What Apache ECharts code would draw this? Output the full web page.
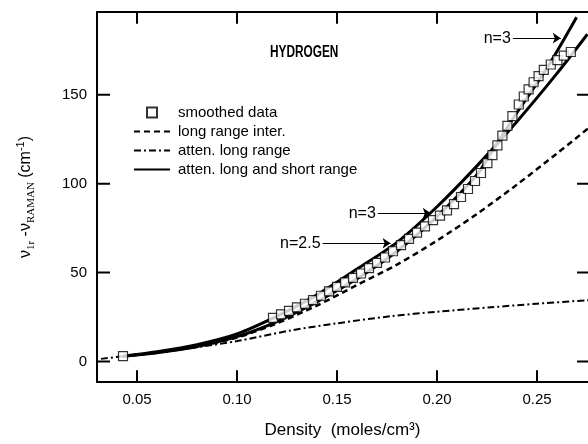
<!DOCTYPE html>
<html><head><meta charset="utf-8">
<script src="https://cdn.jsdelivr.net/npm/echarts@6/dist/echarts.min.js"></script>
<style>html,body{margin:0;padding:0;background:#fff}#c{width:588px;height:444px}</style>
</head><body><div id="c"></div>
<script>
// ---- data ----
const smoothedX = [0.043,0.118,0.122,0.126,0.130,0.134,0.138,0.142,0.146,0.150,0.154,0.158,0.162,0.166,0.170,0.174,0.178,0.182,0.186,0.190,0.194,0.198,0.2015,0.205,0.2085,0.212,0.2155,0.219,0.222,0.2252,0.2277,0.2302,0.2327,0.2352,0.2377,0.2409,0.2434,0.2458,0.2483,0.2508,0.2534,0.2569,0.2602,0.2634,0.2669];
const smoothedY = [3,24.5,26.5,28.5,30.5,32.5,34.5,37,39.5,42,44.5,47,49.5,52.5,55.5,58.5,62,65.5,69,72.5,76,79.5,82,85,88.5,92.5,97,101.5,106,111.5,116,121.5,127,132.5,138,144.5,149,153,157,160.5,164,167,169.5,172,174];
const longRangeX = [0.043,0.06,0.08,0.10,0.12,0.14,0.16,0.18,0.20,0.22,0.24,0.26,0.2755];
const longRangeY = [3,5,8.5,13.5,21.5,31.5,43,54.5,68,83,99.5,117,131];
const attenLongX = [0.032,0.043,0.06,0.08,0.10,0.127,0.15,0.177,0.20,0.227,0.25,0.2755];
const attenLongY = [1.5,3,5,8,11.5,17.5,21.5,25.5,28,30.5,32.5,34.5];
const fullN3X = [0.043,0.06,0.08,0.10,0.12,0.14,0.15,0.16,0.18,0.20,0.22,0.2268,0.24,0.255,0.2698];
const fullN3Y = [3,5,8.5,14,22.5,33.5,40,46.5,62,81.5,105,117,140,165,193.5];
const fullN25X = [0.043,0.06,0.08,0.10,0.12,0.14,0.16,0.18,0.20,0.22,0.24,0.26,0.2752];
const fullN25Y = [3,5.5,9.5,15.5,25.5,37.5,52,67,87,110,135,162,184];
const xTicks = [0.05,0.10,0.15,0.20,0.25];
const yTicks = [0,50,100,150];
const annotText = ['n=3','n=3','n=2.5'];
const annotX1 = [0.2379,0.1704,0.1428];
const annotX2 = [0.2619,0.1969,0.1768];
const annotY = [181.8,83.4,66.5];

const pairs = (xs, ys) => xs.map((x, i) => [x, ys[i]]);
const FONT = "'Liberation Sans', Arial, Helvetica, sans-serif";
const XMIN = 0.03, XMAX = 0.2755, YMIN = -11.5, YMAX = 196.5;
const GRID = {left: 97, top: 12, right: 0, bottom: 57};
const PLOT_W = 588 - GRID.left - GRID.right, PLOT_H = 444 - GRID.top - GRID.bottom;
// inward tick lengths (px) expressed in axis units
const xPerPx = (XMAX - XMIN) / PLOT_W, yPerPx = (YMAX - YMIN) / PLOT_H;
const XT = 12 * yPerPx, YTL = 13 * xPerPx, YTR = 11 * xPerPx;

// frame tick marks as a broken polyline (null breaks each segment)
const tickData = [];
xTicks.forEach(t => { tickData.push([t, YMIN], [t, YMIN + XT], [t, null]); });
xTicks.forEach(t => { tickData.push([t, YMAX], [t, YMAX - XT], [t, null]); });
yTicks.forEach(t => { tickData.push([XMIN, t], [XMIN + YTL, t], [XMIN, null]); });
yTicks.forEach(t => { tickData.push([XMAX, t], [XMAX - YTR, t], [XMAX, null]); });

const chart = echarts.init(document.getElementById('c'), null, {renderer: 'canvas'});

const lineAxis = {show: true, onZero: false, lineStyle: {color: '#000', width: 2}};
const baseX = {type: 'value', min: XMIN, max: XMAX, splitNumber: 5, splitLine: {show: false}, axisTick: {show: false}};
const baseY = {type: 'value', min: YMIN, max: YMAX, splitNumber: 5, splitLine: {show: false}, axisTick: {show: false}};

const markLineData = annotText.map((t, i) => [
  {coord: [annotX1[i], annotY[i]], label: {formatter: t}},
  {coord: [annotX2[i], annotY[i]]}
]);
const hiddenSymbol = {color: 'rgba(0,0,0,0)', borderWidth: 0, opacity: 0};

chart.setOption({
  animation: false,
  backgroundColor: '#fff',
  textStyle: {fontFamily: FONT, color: '#000'},
  grid: Object.assign({containLabel: false}, GRID),
  graphic: [{
    type: 'text', x: 270, y: 45, scaleX: 0.74, scaleY: 1, silent: true,
    style: {text: 'HYDROGEN', font: "bold 16px 'Liberation Sans', Arial, sans-serif", fill: '#000'}
  }],
  legend: {
    orient: 'vertical', left: 128, top: 99, itemWidth: 36, itemHeight: 10, itemGap: 2,
    selectedMode: false,
    textStyle: {fontFamily: FONT, fontSize: 15, color: '#000', lineHeight: 17, padding: [0, 0, 0, 3]},
    data: [
      {name: 'smoothed data', icon: 'path://M0,0h10v10h-10z'},
      {name: 'long range inter.', itemStyle: hiddenSymbol},
      {name: 'atten. long range', itemStyle: hiddenSymbol},
      {name: 'atten. long and short range', itemStyle: hiddenSymbol}
    ]
  },
  xAxis: [
    Object.assign({}, baseX, {
      position: 'bottom', axisLine: lineAxis,
      axisLabel: {show: true, showMinLabel: false, showMaxLabel: false, margin: 10, fontSize: 15,
        fontFamily: FONT, color: '#000', formatter: v => v.toFixed(2)},
      name: 'Density  (moles/cm³)', nameLocation: 'middle', nameGap: 40,
      nameTextStyle: {fontSize: 17, fontFamily: FONT, color: '#000'}
    }),
    Object.assign({}, baseX, {position: 'top', axisLine: lineAxis, axisLabel: {show: false}})
  ],
  yAxis: [
    Object.assign({}, baseY, {
      position: 'left', axisLine: lineAxis,
      axisLabel: {show: true, showMinLabel: false, showMaxLabel: false, margin: 10, fontSize: 15,
        fontFamily: FONT, color: '#000'},
      name: '{v|ν}{s|1r}{v| -ν}{s|RAMAN}{v| (cm}{p|-1}{v|)}',
      nameLocation: 'middle', nameRotate: 90, nameGap: 60,
      nameTextStyle: {
        fontSize: 16, fontFamily: FONT, color: '#000',
        rich: {
          v: {fontSize: 16, fontFamily: FONT, lineHeight: 22, verticalAlign: 'middle'},
          s: {fontSize: 11, fontFamily: "'Liberation Serif', serif", lineHeight: 11, verticalAlign: 'bottom'},
          p: {fontSize: 11, fontFamily: FONT, lineHeight: 11, verticalAlign: 'top'}
        }
      }
    })
  ],
  series: [
    {
      name: 'frame ticks', type: 'line', data: tickData,
      symbol: 'none', connectNulls: false, clip: false, silent: true, z: 6,
      lineStyle: {color: '#000', width: 2, type: 'solid'}
    },
    {
      name: 'long range inter.', type: 'line', data: pairs(longRangeX, longRangeY),
      symbol: 'none', smooth: 0.3, z: 3,
      lineStyle: {color: '#000', width: 2.5, type: [6, 4]},
      itemStyle: {color: '#000'}
    },
    {
      name: 'atten. long range', type: 'line', data: pairs(attenLongX, attenLongY),
      symbol: 'none', smooth: 0.3, z: 3,
      lineStyle: {color: '#000', width: 2, type: [7, 3, 2, 3]},
      itemStyle: {color: '#000'},
      markLine: {
        silent: true, animation: false,
        symbol: ['none', 'arrow'], symbolSize: 8,
        lineStyle: {color: '#000', width: 1, type: 'solid'},
        label: {show: true, position: 'start', distance: 2, fontSize: 16, fontFamily: FONT, color: '#000'},
        data: markLineData
      }
    },
    {
      name: 'atten. long and short range', type: 'line', data: pairs(fullN3X, fullN3Y),
      symbol: 'none', smooth: 0.3, z: 4,
      lineStyle: {color: '#000', width: 3, type: 'solid'},
      itemStyle: {color: '#000'}
    },
    {
      name: 'atten. long and short range', type: 'line', data: pairs(fullN25X, fullN25Y),
      symbol: 'none', smooth: 0.3, z: 4,
      lineStyle: {color: '#000', width: 3, type: 'solid'},
      itemStyle: {color: '#000'}
    },
    {
      name: 'smoothed data', type: 'scatter', data: pairs(smoothedX, smoothedY),
      symbol: 'rect', symbolSize: 9, z: 5,
      itemStyle: {color: '#fff', borderColor: '#000', borderWidth: 1.2}
    }
  ]
});
</script>
</body></html>
